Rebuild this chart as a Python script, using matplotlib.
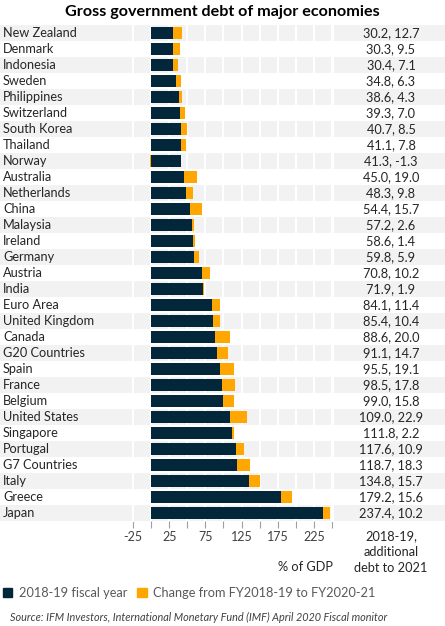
import numpy as np
import matplotlib.pyplot as plt
from matplotlib.patches import Rectangle, Patch
from matplotlib.transforms import blended_transform_factory

plt.rcParams['font.family'] = ['Lato', 'DejaVu Sans']

countries = ['New Zealand', 'Denmark', 'Indonesia', 'Sweden', 'Philippines', 'Switzerland',
             'South Korea', 'Thailand', 'Norway', 'Australia', 'Netherlands', 'China',
             'Malaysia', 'Ireland', 'Germany', 'Austria', 'India', 'Euro Area',
             'United Kingdom', 'Canada', 'G20 Countries', 'Spain', 'France', 'Belgium',
             'United States', 'Singapore', 'Portugal', 'G7 Countries', 'Italy', 'Greece', 'Japan']
debt_2019 = [30.2, 30.3, 30.4, 34.8, 38.6, 39.3, 40.7, 41.1, 41.3, 45.0, 48.3, 54.4,
             57.2, 58.6, 59.8, 70.8, 71.9, 84.1, 85.4, 88.6, 91.1, 95.5, 98.5, 99.0,
             109.0, 111.8, 117.6, 118.7, 134.8, 179.2, 237.4]
change_2021 = [12.7, 9.5, 7.1, 6.3, 4.3, 7.0, 8.5, 7.8, -1.3, 19.0, 9.8, 15.7,
               2.6, 1.4, 5.9, 10.2, 1.9, 11.4, 10.4, 20.0, 14.7, 19.1, 17.8, 15.8,
               22.9, 2.2, 10.9, 18.3, 15.7, 15.6, 10.2]
xticks = list(range(-25, 251, 25))
xlabels = ['-25', '', '25', '', '75', '', '125', '', '175', '', '225', '']

navy = '#02273a'
orange = '#ffa600'
W, H = 445, 626

fig = plt.figure(figsize=(W / 100, H / 100), dpi=100)
ax = fig.add_axes([133 / W, 1 - 521 / H, (332 - 133) / W, 496 / H])
ax.patch.set_alpha(0)

y = np.arange(len(countries))
base = np.array(debt_2019)
chg = np.array(change_2021)

# row bands across the whole width
tr = blended_transform_factory(fig.transFigure, ax.transData)
for i in y[::2]:
    ax.add_patch(Rectangle((0, i - 0.5), 1, 1, transform=tr, color='#f2f2f2',
                           lw=0, zorder=0, clip_on=False))
for xs in (132.5 / W, 332.5 / W):
    ax.add_line(plt.Line2D([xs, xs], [-0.5, 30.5], transform=tr, color='white',
                           lw=1.5, zorder=0.6, clip_on=False))

ax.barh(y, base, height=0.78, color=navy, zorder=3)
left = np.where(chg >= 0, base, 0)
ax.barh(y, chg, left=left, height=0.78, color=orange, zorder=2)

ax.set_xlim(-25, 250)
ax.set_ylim(30.5, -0.5)
ax.set_xticks(xticks)
ax.set_xticklabels(xlabels)
ax.set_yticks([])
ax.tick_params(axis='x', length=5, color='#a0a0a0', labelsize=9, labelcolor='#404040', pad=2)
ax.grid(axis='x', color='white', lw=1.5, zorder=1)
ax.set_axisbelow(True)
for s in ax.spines.values():
    s.set_visible(False)

for i, (c, b, d) in enumerate(zip(countries, debt_2019, change_2021)):
    ax.text(3 / W, i, c, transform=tr, ha='left', va='center', fontsize=9.2, color='#262626')
    ax.text(391 / W, i, f'{b:.1f}, {d:.1f}', transform=tr, ha='center', va='center',
            fontsize=9.2, color='#262626')

fig.text(0.5, 1 - 12 / H, 'Gross government debt of major economies', ha='center', va='center',
         fontsize=11.6, fontweight='bold', color='black')
fig.text(305 / W, 1 - 567 / H, '% of GDP', ha='center', va='center', fontsize=9.2, color='#262626')
fig.text(391 / W, 1 - 552 / H, '2018-19,\nadditional\ndebt to 2021', ha='center', va='center',
         fontsize=9.2, color='#262626', linespacing=1.35)

handles = [Patch(color=navy, label='2018-19 fiscal year'),
           Patch(color=orange, label='Change from FY2018-19 to FY2020-21')]
fig.legend(handles=handles, loc='center left', bbox_to_anchor=(0, 1 - 593 / H), ncol=2,
           frameon=False, fontsize=9.2, handlelength=0.75, handleheight=0.75, handletextpad=0.5,
           columnspacing=0.8, labelcolor='#595959', borderaxespad=0, borderpad=0.2)
fig.text(10 / W, 1 - 617 / H, 'Source: IFM Investors, International Monetary Fund (IMF) April 2020 Fiscal monitor',
         ha='left', va='center', fontsize=7.8, style='italic', color='#404040')

fig.savefig('out.png', dpi=100)
